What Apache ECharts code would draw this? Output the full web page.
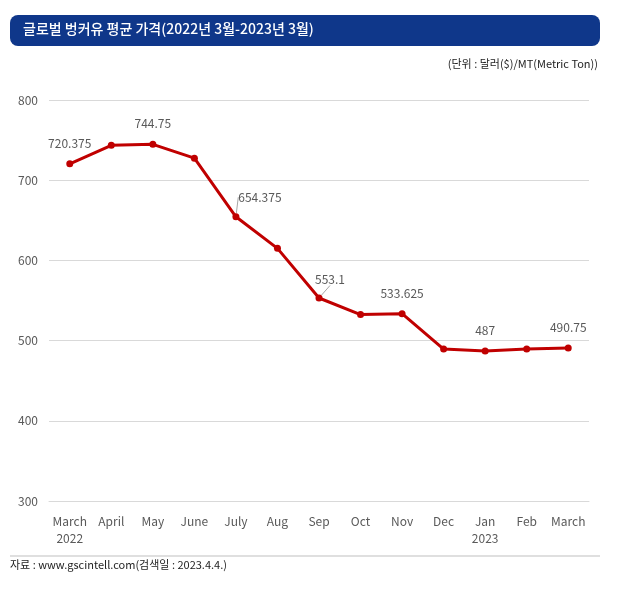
<!DOCTYPE html>
<html>
<head>
<meta charset="utf-8">
<script src="https://cdn.jsdelivr.net/npm/echarts@6/dist/echarts.min.js"></script>
<style>
  html, body { margin: 0; padding: 0; background: #fff; }
  #chart { width: 622px; height: 593px; }
</style>
</head>
<body>
<div id="chart"></div>
<script>
const months = ['March\n2022', 'April', 'May', 'June', 'July', 'Aug', 'Sep', 'Oct', 'Nov', 'Dec', 'Jan\n2023', 'Feb', 'March'];
const prices = [720.375, 743.5, 744.75, 727.5, 654.375, 615, 553.1, 532.5, 533.625, 489.5, 487, 489.5, 490.75];
// which points carry a value label, and which of those get a leader line
const labelled = [0, 2, 4, 6, 8, 10, 12];
const leader = [4, 6];

const font = '"Noto Sans CJK KR", "Noto Sans", sans-serif';

const chart = echarts.init(document.getElementById('chart'));

chart.setOption({
  animation: false,
  graphic: [
    { type: 'rect', left: 10, top: 15, shape: { width: 590, height: 31, r: 8 }, style: { fill: '#0F378A' } },
    { type: 'text', left: 23, top: 22, style: { text: '글로벌 벙커유 평균 가격(2022년 3월-2023년 3월)', fill: '#fff', font: '500 14px "Noto Sans CJK KR", sans-serif' } },
    { type: 'text', right: 24, top: 58, style: { text: '(단위 : 달러($)/MT(Metric Ton))', fill: '#222', font: '11px "Noto Sans CJK KR", sans-serif' } },
    { type: 'line', shape: { x1: 10, y1: 556, x2: 600, y2: 556 }, style: { stroke: '#BFBFBF', lineWidth: 1 } },
    { type: 'text', left: 10, top: 559, style: { text: '자료 : www.gscintell.com(검색일 : 2023.4.4.)', fill: '#222', font: '11px "Noto Sans CJK KR", sans-serif' } }
  ],
  grid: { left: 49, right: 33, top: 100, bottom: 92 },
  xAxis: {
    type: 'category',
    data: months,
    axisLine: { lineStyle: { color: '#D9D9D9' } },
    axisTick: { show: false },
    axisLabel: { color: '#595959', fontFamily: font, fontSize: 12, margin: 12, lineHeight: 17, interval: 0 }
  },
  yAxis: {
    type: 'value',
    min: 300,
    max: 800,
    interval: 100,
    axisLabel: { color: '#595959', fontFamily: font, fontSize: 12, margin: 11 },
    splitLine: { lineStyle: { color: '#D9D9D9' } }
  },
  series: [{
    type: 'line',
    data: prices.map((v, i) => ({
      value: v,
      label: { show: labelled.includes(i) },
      labelLine: { show: leader.includes(i) }
    })),
    lineStyle: { color: '#C00000', width: 3 },
    itemStyle: { color: '#C00000' },
    symbol: 'circle',
    symbolSize: 7,
    label: {
      position: 'top',
      distance: 11,
      color: '#595959',
      fontFamily: font,
      fontSize: 12,
      formatter: p => String(p.value)
    },
    labelLine: { show: false, lineStyle: { color: '#A6A6A6', width: 1 } },
    labelLayout: p => {
      if (p.dataIndex === 4) return { dx: 24, dy: 1 };
      if (p.dataIndex === 6) return { dx: 11, dy: 2 };
      return {};
    }
  }]
});
</script>
</body>
</html>
